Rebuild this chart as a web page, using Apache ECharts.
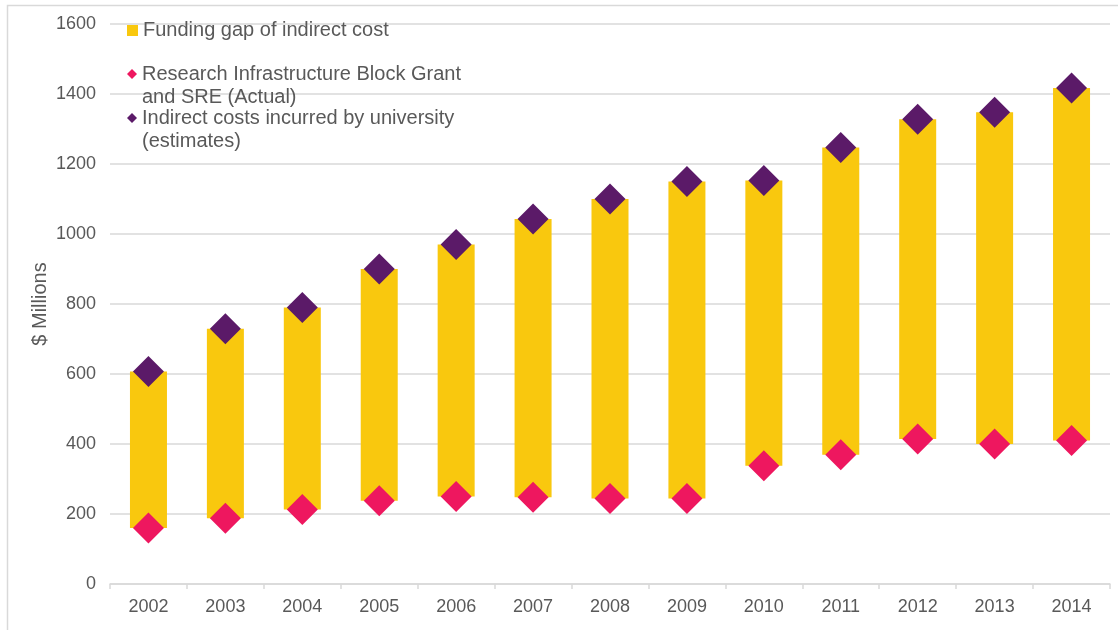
<!DOCTYPE html>
<html>
<head>
<meta charset="utf-8">
<script src="https://cdn.jsdelivr.net/npm/echarts@6/dist/echarts.min.js"></script>
<style>
  html, body { margin: 0; padding: 0; background: #ffffff; }
  #chart { width: 1118px; height: 630px; }
</style>
</head>
<body>
<div id="chart"></div>
<script>
// Years on the category axis
const years = ['2002', '2003', '2004', '2005', '2006', '2007', '2008', '2009', '2010', '2011', '2012', '2013', '2014'];
// Research Infrastructure Block Grant and SRE (Actual), $ millions
const blockGrant = [160, 188, 213, 238, 250, 248, 244, 244, 338, 369, 414, 400, 410];
// Indirect costs incurred by university (estimates), $ millions
const indirectCosts = [607, 729, 790, 900, 970, 1043, 1100, 1150, 1153, 1247, 1328, 1348, 1417];
// Y axis range and step
const yMin = 0, yMax = 1600, yStep = 200;

// Series names as shown in the legend
const gapName = 'Funding gap of indirect cost';
const grantName = 'Research Infrastructure Block Grant\nand SRE (Actual)';
const costName = 'Indirect costs incurred by university\n(estimates)';

// The funding gap bar spans from the grant up to the incurred cost
const fundingGap = indirectCosts.map((v, i) => v - blockGrant[i]);

const textColor = '#595959';
const gridColor = '#d9d9d9';
const font = 'Arial, "Liberation Sans", sans-serif';

const chart = echarts.init(document.getElementById('chart'));

// Multi-line legend text: a spacer line on top keeps the marker level with the first line
const lineH = 23;
const richLegend = {
  s: { fontSize: 20, lineHeight: lineH, fontFamily: font },
  t: { fontSize: 20, lineHeight: lineH, fontFamily: font, color: textColor }
};
function multiLine(name) {
  return '{s| }\n{t|' + name.split('\n').join('}\n{t|') + '}';
}

chart.setOption({
  animation: false,
  backgroundColor: '#ffffff',
  graphic: [{
    type: 'rect',
    shape: { x: 7.5, y: 5.5, width: 1200, height: 700 },
    style: { fill: 'none', stroke: gridColor, lineWidth: 1.5 },
    silent: true, z: -10
  }],
  grid: { left: 110, right: 8, top: 24, bottom: 46 },
  legend: [
    {
      left: 122, top: 14, orient: 'vertical',
      itemWidth: 11, itemHeight: 11,
      textStyle: { color: textColor, fontSize: 20, fontFamily: font, lineHeight: lineH },
      data: [{ name: gapName, icon: 'rect' }],
      selectedMode: false
    },
    {
      left: 122, top: 36, orient: 'vertical',
      itemWidth: 10, itemHeight: 10,
      textStyle: { color: textColor, fontSize: 20, fontFamily: font, rich: richLegend },
      formatter: multiLine,
      data: [{ name: grantName, icon: 'diamond' }],
      selectedMode: false
    },
    {
      left: 122, top: 80, orient: 'vertical',
      itemWidth: 10, itemHeight: 10,
      textStyle: { color: textColor, fontSize: 20, fontFamily: font, rich: richLegend },
      formatter: multiLine,
      data: [{ name: costName, icon: 'diamond' }],
      selectedMode: false
    }
  ],
  xAxis: {
    type: 'category',
    data: years,
    boundaryGap: true,
    axisLine: { show: true, lineStyle: { color: gridColor, width: 1.5 } },
    axisTick: { show: true, length: 5, lineStyle: { color: gridColor, width: 1.5 } },
    axisLabel: { color: textColor, fontSize: 18, fontFamily: font, margin: 14 }
  },
  yAxis: {
    type: 'value',
    min: yMin, max: yMax, interval: yStep,
    name: '$ Millions',
    nameLocation: 'middle',
    nameGap: 60,
    nameMoveOverlap: false,
    nameTextStyle: { color: textColor, fontSize: 20, fontFamily: font },
    axisLine: { show: false },
    axisTick: { show: false },
    splitLine: { show: true, lineStyle: { color: gridColor, width: 1.5 } },
    axisLabel: { color: textColor, fontSize: 18, fontFamily: font, margin: 14, formatter: v => String(v) }
  },
  series: [
    {
      name: 'base',
      type: 'bar',
      stack: 'gap',
      data: blockGrant,
      barWidth: 37,
      itemStyle: { color: 'transparent' },
      silent: true
    },
    {
      name: gapName,
      type: 'bar',
      stack: 'gap',
      data: fundingGap,
      barWidth: 37,
      itemStyle: { color: '#F9C80E' }
    },
    {
      name: grantName,
      type: 'scatter',
      data: blockGrant,
      symbol: 'diamond',
      symbolSize: 31,
      itemStyle: { color: '#EE175F', opacity: 1 },
      z: 5
    },
    {
      name: costName,
      type: 'scatter',
      data: indirectCosts,
      symbol: 'diamond',
      symbolSize: 31,
      itemStyle: { color: '#5B1A68', opacity: 1 },
      z: 5
    }
  ]
});
</script>
</body>
</html>
